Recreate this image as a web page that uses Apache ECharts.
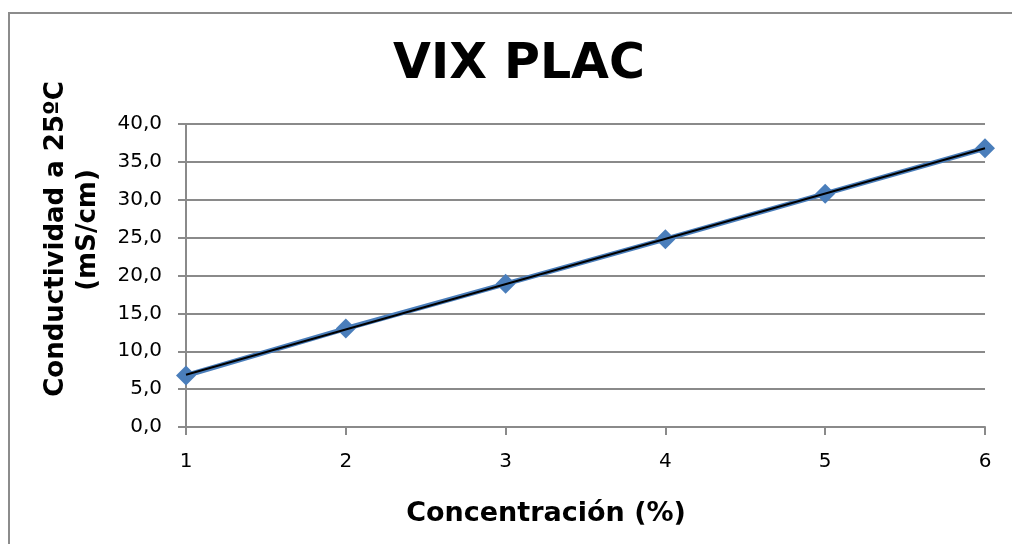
<!DOCTYPE html>
<html>
<head>
<meta charset="utf-8">
<script src="https://cdn.jsdelivr.net/npm/echarts@6/dist/echarts.min.js"></script>
<style>
  html, body { margin: 0; padding: 0; background: #fff; }
  #chart { width: 1012px; height: 544px; }
</style>
</head>
<body>
<div id="chart"></div>
<script>
// datos
var concentracion = [1, 2, 3, 4, 5, 6];
var conductividad = [6.8, 13.0, 18.9, 24.8, 30.8, 36.8];
var yTicks = [0, 5, 10, 15, 20, 25, 30, 35, 40];

// linea de tendencia (minimos cuadrados)
function tendencia(xs, ys) {
  var n = xs.length, sx = 0, sy = 0, sxy = 0, sxx = 0;
  for (var i = 0; i < n; i++) {
    sx += xs[i]; sy += ys[i]; sxy += xs[i] * ys[i]; sxx += xs[i] * xs[i];
  }
  var m = (n * sxy - sx * sy) / (n * sxx - sx * sx);
  var b = (sy - m * sx) / n;
  return [[xs[0], m * xs[0] + b], [xs[n - 1], m * xs[n - 1] + b]];
}

var myChart = echarts.init(document.getElementById('chart'));
var fuente = 'DejaVu Sans';

myChart.setOption({
  animation: false,
  title: {
    text: 'VIX PLAC',
    left: 514,
    top: 36,
    textAlign: 'center',
    textStyle: { fontFamily: fuente, fontWeight: 'bold', fontSize: 49, color: '#000' }
  },
  grid: { left: 186, right: 27, top: 124, bottom: 117 },
  xAxis: {
    type: 'value',
    min: concentracion[0],
    max: concentracion[concentracion.length - 1],
    interval: 1,
    axisLine: { lineStyle: { color: '#8a8a8a', width: 2 } },
    axisTick: { show: true, length: 8, lineStyle: { color: '#8a8a8a', width: 2 } },
    axisLabel: { margin: 25, fontFamily: fuente, fontSize: 20, color: '#000' },
    splitLine: { show: false }
  },
  yAxis: {
    type: 'value',
    min: yTicks[0],
    max: yTicks[yTicks.length - 1],
    interval: 5,
    axisLine: { show: true, lineStyle: { color: '#8a8a8a', width: 2 } },
    axisTick: { show: true, length: 8, lineStyle: { color: '#8a8a8a', width: 2 } },
    axisLabel: {
      margin: 24, fontFamily: fuente, fontSize: 20, color: '#000',
      formatter: function (v) { return v.toFixed(1).replace('.', ','); }
    },
    splitLine: { lineStyle: { color: '#8a8a8a', width: 2 } }
  },
  graphic: [
    {
      type: 'rect', silent: true,
      shape: { x: 9, y: 13, width: 1100, height: 600 },
      style: { fill: 'none', stroke: '#8c8c8c', lineWidth: 2 }
    },
    {
      type: 'text', x: 56, y: 239, rotation: Math.PI / 2,
      style: {
        text: 'Conductividad a 25ºC', fontFamily: fuente, fontWeight: 'bold', fontSize: 26,
        fill: '#000', textAlign: 'center', textVerticalAlign: 'middle'
      }
    },
    {
      type: 'text', x: 88, y: 230, rotation: Math.PI / 2,
      style: {
        text: '(mS/cm)', fontFamily: fuente, fontWeight: 'bold', fontSize: 26,
        fill: '#000', textAlign: 'center', textVerticalAlign: 'middle'
      }
    },
    {
      type: 'text', x: 546, y: 514,
      style: {
        text: 'Concentración (%)', fontFamily: fuente, fontWeight: 'bold', fontSize: 27,
        fill: '#000', textAlign: 'center', textVerticalAlign: 'middle'
      }
    }
  ],
  series: [
    {
      name: 'Conductividad',
      type: 'line',
      data: concentracion.map(function (x, i) { return [x, conductividad[i]]; }),
      symbol: 'diamond',
      symbolSize: 20,
      itemStyle: { color: '#4a7ebb' },
      lineStyle: { color: '#4a7ebb', width: 5 },
      clip: false,
      z: 2
    },
    {
      name: 'Tendencia',
      type: 'line',
      data: tendencia(concentracion, conductividad),
      symbol: 'none',
      lineStyle: { color: '#000', width: 2 },
      z: 3
    }
  ]
});
</script>
</body>
</html>
